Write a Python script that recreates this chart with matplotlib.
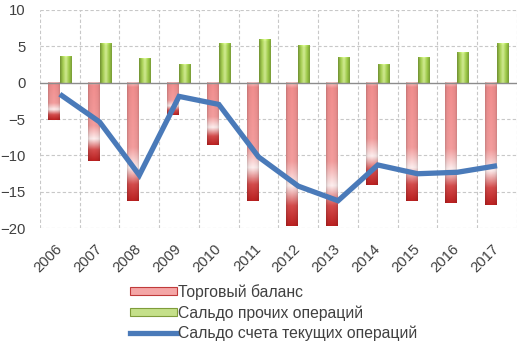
import numpy as np
import matplotlib

matplotlib.use("Agg")
import matplotlib.pyplot as plt
from matplotlib.patches import Patch
from matplotlib.lines import Line2D

plt.rcParams["font.family"] = ["Liberation Sans", "DejaVu Sans"]

years = ["2006", "2007", "2008", "2009", "2010", "2011",
         "2012", "2013", "2014", "2015", "2016", "2017"]
trade_balance = [-5.2, -10.7, -16.2, -4.4, -8.5, -16.3,
                 -19.7, -19.7, -14.1, -16.2, -16.5, -16.8]
other_balance = [3.6, 5.4, 3.4, 2.6, 5.4, 6.0,
                 5.2, 3.5, 2.6, 3.5, 4.2, 5.4]
current_account = [-1.6, -5.4, -12.7, -1.9, -3.0, -10.2,
                   -14.2, -16.2, -11.3, -12.5, -12.3, -11.4]
labels = ["Торговый баланс", "Сальдо прочих операций",
          "Сальдо счета текущих операций"]

LINE_BLUE = "#4a7ab9"
TEXT = "#404040"


def _ramp(stops, n):
    """Interpolate RGB stops [(t, (r, g, b)), ...] onto n samples."""
    t = np.linspace(0, 1, n)
    pos = [s[0] for s in stops]
    return np.stack([np.interp(t, pos, [s[1][c] for s in stops])
                     for c in range(3)], axis=-1)


def red_fill(n=200, m=30):
    vert = _ramp([(0.0, (0.99, 0.80, 0.80)), (0.04, (0.95, 0.56, 0.56)),
                  (0.55, (0.96, 0.62, 0.62)), (0.72, (1.0, 0.94, 0.94)),
                  (0.86, (0.84, 0.30, 0.30)), (1.0, (0.74, 0.13, 0.13))], n)
    horiz = np.interp(np.linspace(0, 1, m), [0, 0.15, 0.5, 0.85, 1],
                      [0.82, 0.95, 1.0, 0.95, 0.85])
    return np.clip(vert[:, None, :] * horiz[None, :, None], 0, 1)


def green_fill(n=60, m=30):
    horiz = _ramp([(0.0, (0.45, 0.58, 0.20)), (0.25, (0.66, 0.82, 0.33)),
                   (0.5, (0.83, 0.93, 0.58)), (0.78, (0.62, 0.80, 0.28)),
                   (1.0, (0.48, 0.62, 0.22))], m)
    vert = np.interp(np.linspace(0, 1, n), [0, 0.05, 1], [1.08, 1.0, 0.97])
    return np.clip(horiz[None, :, :] * vert[:, None, None], 0, 1)


fig = plt.figure(figsize=(5.19, 3.42), dpi=100)
ax = fig.add_axes([0.077, 0.332, 0.919, 0.640])

x = np.arange(len(years))
w = 0.3
red_img = red_fill()
green_img = green_fill()
for xi, tv, ov in zip(x, trade_balance, other_balance):
    # trade bar: top of the image sits at zero
    ax.imshow(red_img, extent=(xi - w, xi, tv, 0), aspect="auto",
              interpolation="bilinear", zorder=2)
    ax.imshow(green_img, extent=(xi, xi + w, 0, ov), aspect="auto",
              interpolation="bilinear", zorder=2)

ax.plot(x, current_account, color=LINE_BLUE, lw=3.8,
        solid_joinstyle="miter", solid_capstyle="butt", zorder=4)
ax.axhline(0, color="#8c8c8c", lw=1.0, zorder=3)

ax.set_xlim(-0.5, len(years) - 0.5)
ax.set_ylim(-20, 10)
ax.set_yticks(np.arange(-20, 11, 5))
ax.set_xticks(x)
ax.set_xticklabels(years, rotation=45, ha="right", va="center",
                   rotation_mode="anchor")
ax.tick_params(length=0, labelsize=10.7, colors=TEXT)
ax.tick_params(axis="y", pad=10.5)
ax.tick_params(axis="x", pad=13)

for s in ax.spines.values():
    s.set_visible(False)
grid_kw = dict(color="#c8c8c8", lw=0.8, ls=(0, (3, 2)), zorder=0)
for yv in np.arange(-20, 11, 5):
    if yv != 0:
        ax.axhline(yv, **grid_kw)
for xv in np.arange(-0.5, len(years), 1.0):
    ax.axvline(xv, **grid_kw)

handles = [
    Patch(facecolor="#f4a6a6", edgecolor="#c03a3a", lw=0.8),
    Patch(facecolor="#c5e08a", edgecolor="#7f9c3a", lw=0.8),
    Line2D([], [], color=LINE_BLUE, lw=3.8),
]
fig.legend(handles, labels, loc="upper left", bbox_to_anchor=(0.236, 0.192),
           frameon=False, fontsize=11.3, handlelength=2.95, handleheight=0.4,
           handletextpad=0.08, labelspacing=0.32, borderpad=0,
           labelcolor=TEXT)

fig.savefig("out.png", dpi=100)
